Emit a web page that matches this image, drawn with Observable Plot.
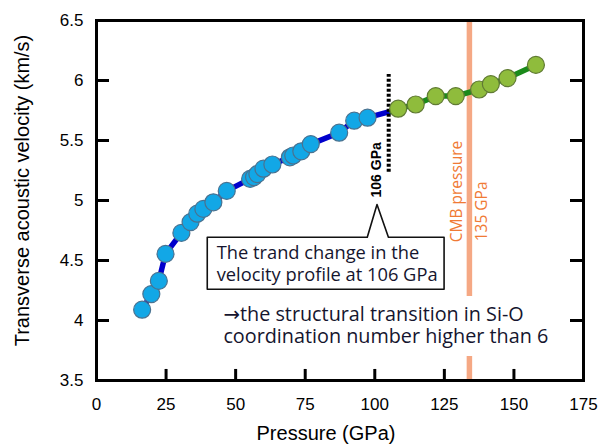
<!DOCTYPE html>
<html>
<head>
<meta charset="utf-8">
<script src="https://cdn.jsdelivr.net/npm/d3@7"></script>
<script src="https://cdn.jsdelivr.net/npm/@observablehq/plot@0.6"></script>
<style>
  html, body { margin: 0; padding: 0; background: #fff; }
  svg { display: block; }
</style>
</head>
<body>
<div id="chart"></div>
<script>
// Low-pressure phase (blue)
const bluePressure = [16.4, 19.7, 22.4, 24.8, 30.5, 33.8, 36.2, 38.4, 42.0, 46.8, 55.2, 56.6, 57.8, 60.0, 63.2, 69.5, 70.7, 73.6, 77.0, 87.2, 92.6, 97.4];
const blueVelocity = [4.09, 4.22, 4.33, 4.555, 4.73, 4.82, 4.89, 4.93, 4.985, 5.08, 5.18, 5.195, 5.22, 5.265, 5.30, 5.36, 5.375, 5.41, 5.47, 5.565, 5.665, 5.69];
// High-pressure phase (green)
const greenPressure = [108.4, 114.7, 121.9, 129.1, 137.5, 141.7, 147.7, 157.9];
const greenVelocity = [5.765, 5.80, 5.87, 5.87, 5.925, 5.97, 6.02, 6.13];
// Trend change point
const transitionPressure = [106];
const transitionVelocity = [5.745];

const xTicks = [0, 25, 50, 75, 100, 125, 150, 175];
const yTicks = [3.5, 4, 4.5, 5, 5.5, 6, 6.5];
const xInnerTicks = [25, 50, 75, 100, 125, 150];
const yInnerTicks = [4, 4.5, 5, 5.5, 6];

// Annotations (data units)
const dashedRule = [{x: 105, y1: 5.236, y2: 6.05}];
const cmbRule = [{x: 134, y1: 4.2, y2: 6.5}, {x: 134, y1: 3.5, y2: 3.7}];
const calloutShape = [
  {x: 39.8, y: 4.694}, {x: 97.3, y: 4.694}, {x: 100.8, y: 4.967}, {x: 104.9, y: 4.694},
  {x: 124.9, y: 4.694}, {x: 124.9, y: 4.261}, {x: 39.8, y: 4.261}
];
const calloutText = [{x: 43.2, y: 4.479, text: "The trand change in the\nvelocity profile at 106 GPa"}];
const noteText = [{x: 45.6, y: 3.9625, text: "→the structural transition in Si-O\ncoordination number higher than 6"}];
const transLabel = [{x: 100.7, y: 5.025, text: "106 GPa"}];
const cmbLabels = [{x: 129.5, y: 4.652, text: "CMB pressure"}, {x: 138.7, y: 4.66, text: "135 GPa"}];

const blue = bluePressure.map((p, i) => ({p, v: blueVelocity[i]}));
const green = greenPressure.map((p, i) => ({p, v: greenVelocity[i]}));
const trans = transitionPressure.map((p, i) => ({p, v: transitionVelocity[i]}));
const blueLine = blue.concat(trans);
const greenLine = trans.concat(green);

const annFont = "'Open Sans', 'Noto Sans', sans-serif";

const chart = Plot.plot({
  width: 600,
  height: 446,
  marginLeft: 96,
  marginRight: 17,
  marginTop: 20,
  marginBottom: 66,
  style: {fontFamily: "'Liberation Sans', Arial, sans-serif", background: "#fff"},
  x: {domain: [0, 175]},
  y: {domain: [3.5, 6.5]},
  marks: [
    Plot.ruleY(yInnerTicks, {y: d => d, x1: 0, x2: 4.67, stroke: "#000", strokeWidth: 3}),
    Plot.ruleY(yInnerTicks, {y: d => d, x1: 170.33, x2: 175, stroke: "#000", strokeWidth: 3}),
    Plot.ruleX(xInnerTicks, {x: d => d, y1: 3.5, y2: 3.592, stroke: "#000", strokeWidth: 3}),
    Plot.ruleX(cmbRule, {x: "x", y1: "y1", y2: "y2", stroke: "#f5a884", strokeWidth: 5.5}),
    Plot.line(blueLine, {x: "p", y: "v", stroke: "#0000cc", strokeWidth: 5.5}),
    Plot.line(greenLine, {x: "p", y: "v", stroke: "#1a8a1a", strokeWidth: 5.5}),
    Plot.ruleX(dashedRule, {x: "x", y1: "y1", y2: "y2", stroke: "#000", strokeWidth: 4, strokeDasharray: "3,2"}),
    Plot.dot(blue, {x: "p", y: "v", r: 8.5, fill: "#12a7e6", stroke: "#4a7290", strokeWidth: 1.2}),
    Plot.dot(green, {x: "p", y: "v", r: 8.5, fill: "#8fbc3c", stroke: "#607a34", strokeWidth: 1.2}),
    Plot.line(calloutShape, {x: "x", y: "y", curve: "linear-closed", fill: "white", stroke: "#111", strokeWidth: 1.6}),
    Plot.text(calloutText, {x: "x", y: "y", text: "text", textAnchor: "start", lineAnchor: "middle", lineHeight: 1.17, fontSize: 18.3, fontFamily: annFont, fill: "#15152e"}),
    Plot.text(noteText, {x: "x", y: "y", text: "text", textAnchor: "start", lineAnchor: "middle", lineHeight: 1.1, fontSize: 19.8, fontFamily: annFont, fill: "#15152e"}),
    Plot.text(transLabel, {x: "x", y: "y", text: "text", rotate: -90, textAnchor: "start", lineAnchor: "middle", fontSize: 14, fontWeight: "bold", fill: "#000"}),
    Plot.text(cmbLabels, {x: "x", y: "y", text: "text", rotate: -90, textAnchor: "start", lineAnchor: "middle", fontSize: 15.5, fontFamily: annFont, fill: "#f07a35"}),
    Plot.frame({stroke: "#000", strokeWidth: 3}),
    Plot.axisY({anchor: "left", ticks: yTicks, tickSize: 0, tickPadding: 13, tickFormat: d => String(d), fontSize: 17, label: null}),
    Plot.axisX({anchor: "bottom", ticks: xTicks, tickSize: 0, tickPadding: 17, fontSize: 17, label: null}),
    Plot.text(["Transverse acoustic velocity (km/s)"], {frameAnchor: "left", dx: -74, dy: -10, rotate: -90, textAnchor: "middle", fontSize: 20, lineAnchor: "middle", fill: "#000"}),
    Plot.text(["Pressure (GPa)"], {frameAnchor: "bottom", dx: -14, dy: 53, textAnchor: "middle", fontSize: 20, lineAnchor: "middle", fill: "#000"})
  ]
});
// render the arrow glyph with a font that draws it at full width
d3.select(chart).selectAll("tspan")
  .filter(function() { return this.textContent.startsWith("→"); })
  .each(function() {
    const rest = this.textContent.slice(1);
    const t = d3.select(this);
    t.text(null);
    t.append("tspan").attr("font-family", "'DejaVu Sans'").text("→");
    t.append("tspan").text(rest);
  });
document.getElementById("chart").appendChild(chart);
</script>
</body>
</html>
